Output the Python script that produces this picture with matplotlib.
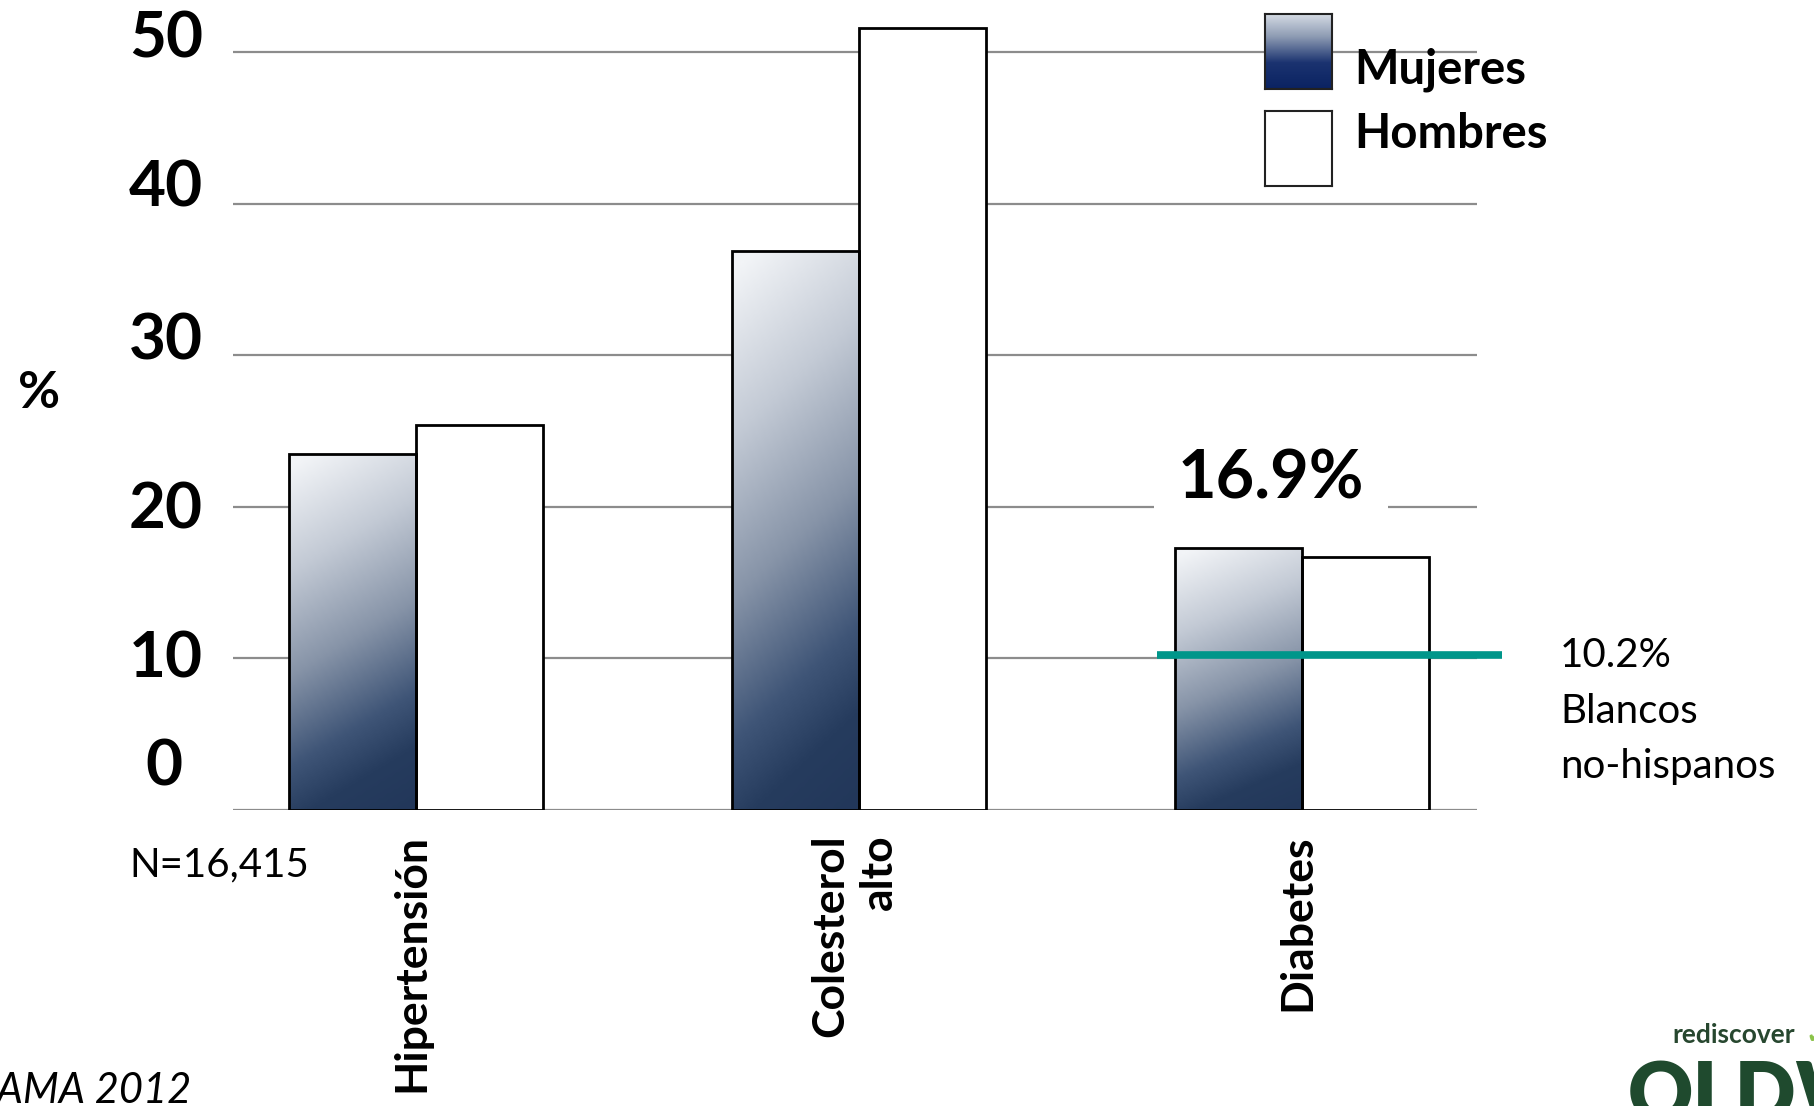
import numpy as np
import matplotlib
matplotlib.use("Agg")
import matplotlib.pyplot as plt
from matplotlib.colors import LinearSegmentedColormap
from matplotlib.transforms import ScaledTranslation, blended_transform_factory

# ---- data -------------------------------------------------------------
categories = ["Hipertensión", "Colesterol\nalto", "Diabetes"]
mujeres = [23.5, 36.9, 17.3]
hombres = [25.4, 51.6, 16.7]
series_names = ["Mujeres", "Hombres"]
y_ticks = [0, 10, 20, 30, 40, 50]
diabetes_total = 16.9
blancos_ref = 10.2
sample_note = "N=16,415"
source_note = "JAMA 2012"

FONT = "Lato"
plt.rcParams["font.family"] = [FONT, "DejaVu Sans"]

fig = plt.figure(figsize=(18.15, 11.06), dpi=100)
fig.patch.set_facecolor("white")
ax = fig.add_axes([0.1284, 0.2676, 0.6854, 0.7333])
ax.set_xlim(-0.413, 2.395)
ax.set_ylim(0, 53.5)
ax.axis("off")

def px(dx, dy):
    return ScaledTranslation(dx / 100.0, dy / 100.0, fig.dpi_scale_trans)

# ---- grid lines -------------------------------------------------------
for t in y_ticks:
    ax.axhline(t, color="#8c8c8c", lw=1.6, zorder=1)

# ---- bars -------------------------------------------------------------
x = np.arange(len(categories))
w = 0.287
bars_m = ax.bar(x - w / 2, mujeres, w, facecolor="none", edgecolor="black",
                lw=2.0, zorder=4)
bars_h = ax.bar(x + w / 2, hombres, w, facecolor="white", edgecolor="black",
                lw=2.0, zorder=3)

bar_cmap = LinearSegmentedColormap.from_list(
    "steel", [(0.0, "#f2f4f7"), (0.25, "#c3cad5"), (0.5, "#8794a8"),
              (0.72, "#3f5577"), (0.85, "#263c5e"), (1.0, "#22375a")])
ny, nx = 200, 60
yy, xx = np.mgrid[0:1:ny * 1j, 0:1:nx * 1j]
grad = np.clip(0.85 * yy + 0.18 * xx - 0.03, 0, 1)
for b in bars_m:
    x0, y0 = b.get_x(), b.get_y()
    bw, bh = b.get_width(), b.get_height()
    im = ax.imshow(grad, cmap=bar_cmap, vmin=0, vmax=1, aspect="auto",
                   extent=(x0, x0 + bw, y0, y0 + bh), origin="upper",
                   interpolation="bilinear", zorder=2)
    im.set_clip_path(b)

# ---- y tick labels ----------------------------------------------------
# (dx, dy) pixel nudges of each label's baseline relative to its grid line
tick_nudge = {0: (-21, 25), 10: (0, -19), 20: (0, -22),
              30: (0, -4), 40: (0, -3), 50: (0, -5)}
ytrans = blended_transform_factory(ax.transAxes, ax.transData)
for t in y_ticks:
    dx, dy = tick_nudge[t]
    ax.text(0, t, f"{t}", ha="right", va="baseline", fontsize=46,
            fontweight="bold", color="black",
            transform=ytrans + px(-30 + dx, dy), clip_on=False)

fig.text(39 / 1815, 1 - 394 / 1106, "%", ha="center", va="center",
         fontsize=37, fontweight="bold")

# ---- category labels --------------------------------------------------
for xi, cat in zip(x, categories):
    ax.text(xi - 0.01, 0, cat, rotation=90, ha="center", va="top",
            multialignment="right", fontsize=32, fontweight="bold",
            linespacing=1.25, transform=ax.transData + px(0, -24),
            clip_on=False)

ax.text(0, 0, sample_note, ha="left", va="top", fontsize=29,
        transform=ytrans + px(-104, -36), clip_on=False)
fig.text(192 / 1815, 1 - 1103 / 1106, source_note, ha="right",
         va="baseline", fontsize=30, style="italic")

# ---- diabetes annotations ---------------------------------------------
ax.text(x[2], 20, f"{diabetes_total}%", ha="center", va="baseline",
        fontsize=48, fontweight="bold", zorder=6,
        transform=ax.transData + px(-31, 8),
        bbox=dict(boxstyle="square,pad=0.35", fc="white", ec="none"))
ax.plot([x[2] - 0.327, x[2] + 0.451], [blancos_ref, blancos_ref],
        color="#00968a", lw=5.5, solid_capstyle="butt", zorder=7,
        clip_on=False)
ax.text(1560 / 1815, 1 - 637 / 1106,
        f"{blancos_ref}%\nBlancos\nno-hispanos", transform=fig.transFigure,
        ha="left", va="top", fontsize=29, linespacing=1.62)

# ---- legend -----------------------------------------------------------
leg_cmap = LinearSegmentedColormap.from_list(
    "legnavy", [(0.0, "#d4dae3"), (0.3, "#8d9bb3"), (0.65, "#1b3370"),
                (1.0, "#0b2362")])
lax = fig.add_axes([1265 / 1815, 1 - 89 / 1106, 67 / 1815, 75 / 1106])
lg = np.linspace(0, 1, 100)[:, None] * np.ones((1, 40))
lax.imshow(lg, cmap=leg_cmap, aspect="auto", interpolation="bilinear")
for s in lax.spines.values():
    s.set_linewidth(1.5)
    s.set_color("#222222")
lax.set_xticks([])
lax.set_yticks([])
hax = fig.add_axes([1265 / 1815, 1 - 186 / 1106, 67 / 1815, 75 / 1106])
hax.set_facecolor("white")
for s in hax.spines.values():
    s.set_linewidth(1.5)
    s.set_color("#222222")
hax.set_xticks([])
hax.set_yticks([])
fig.text(1354 / 1815, 1 - 83 / 1106, series_names[0], ha="left",
         va="baseline", fontsize=34, fontweight="bold")
fig.text(1354 / 1815, 1 - 148 / 1106, series_names[1], ha="left",
         va="baseline", fontsize=34, fontweight="bold")

# ---- logo -------------------------------------------------------------
fig.text(1672 / 1815, 1 - 1043 / 1106, "rediscover", ha="left",
         va="baseline", fontsize=19, fontweight="bold", color="#27472f")
fig.text(1806 / 1815, 1 - 1043 / 1106, "\u2714", ha="left", va="baseline",
         fontsize=16, color="#8bc34a", family="DejaVu Sans")
fig.text(1628 / 1815, 1 - 1060 / 1106, "OLDWAYS", ha="left", va="top",
         fontsize=58, fontweight="heavy", color="#1f4a2e")

fig.savefig("out.png", dpi=100, facecolor="white")
